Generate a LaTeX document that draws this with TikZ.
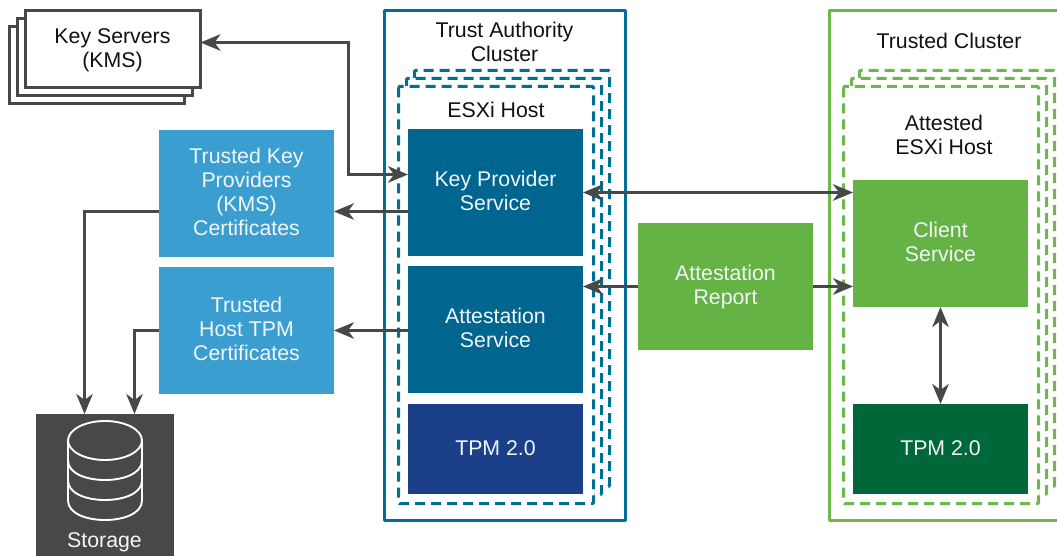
\documentclass[tikz,border=0pt]{standalone}
\usepackage{fontspec}
\setmainfont{Liberation Sans}
\usetikzlibrary{arrows.meta,calc}
\definecolor{arrowgrey}{HTML}{474847}
\definecolor{taline}{HTML}{006E96}
\definecolor{tcline}{HTML}{6CB84B}
\definecolor{svcblue}{HTML}{006690}
\definecolor{tpmblue}{HTML}{1B3F88}
\definecolor{certblue}{HTML}{3B9ED1}
\definecolor{svcgreen}{HTML}{65B345}
\definecolor{tpmgreen}{HTML}{006838}
\definecolor{textblack}{HTML}{111111}
\definecolor{textwhite}{HTML}{F2F6F8}
\tikzset{
  lbl/.style={font=\fontsize{21.3}{24}\selectfont,align=center,inner sep=0pt,outer sep=0pt},
  darklbl/.style={lbl,text=textblack},
  whitelbl/.style={lbl,text=textwhite},
  box/.style={minimum width=175pt,inner sep=0pt,outer sep=0pt,draw=none},
  certbox/.style={box,fill=certblue,minimum height=127pt},
  svcbox/.style={box,fill=svcblue,minimum height=127pt},
  greenbox/.style={box,fill=svcgreen,minimum height=127pt},
  tpmbox/.style={box,minimum height=90pt},
  stackbox/.style={draw=arrowgrey,line width=2.7pt,fill=white,minimum width=175pt,minimum height=77pt,inner sep=0pt,outer sep=0pt},
  frameline/.style={line width=2.7pt,line join=round},
  hostline/.style={line width=3pt,rounded corners=1pt,dash pattern=on 10pt off 6pt},
  conn/.style={draw=arrowgrey,line width=2.7pt,line join=miter},
  tip/.style={-{Stealth[length=20pt,width=16.5pt,inset=6pt]}},
  tips/.style={{Stealth[length=20pt,width=16.5pt,inset=6pt]}-{Stealth[length=20pt,width=16.5pt,inset=6pt]}},
  cyl/.style={white,line width=1.9pt},
}
\begin{document}
\begin{tikzpicture}[x=1pt,y=-1pt]
\useasboundingbox (0,0) rectangle (1057,556);
% Trust Authority cluster
\draw[taline,frameline] (384.5,10.5) rectangle (625.5,520.5);
\draw[taline,hostline] (414.5,78) -- (414.5,70.5) -- (609.5,70.5) -- (609.5,486.5) -- (602,486.5);
\draw[taline,hostline] (406.5,86) -- (406.5,78.5) -- (601.5,78.5) -- (601.5,494.5) -- (594,494.5);
\draw[taline,hostline] (398.5,86.5) rectangle (593.5,503.5);
\node[darklbl] (talabel) at (504.5,42) {Trust Authority\\Cluster};
\node[darklbl] (esxilabel) at (496,110) {ESXi Host};
% Trusted cluster
\draw[tcline,frameline] (1058,10.5) -- (829.5,10.5) -- (829.5,520.5) -- (1058,520.5);
\draw[tcline,hostline] (859.5,78) -- (859.5,70.5) -- (1054.5,70.5) -- (1054.5,486.5) -- (1047,486.5);
\draw[tcline,hostline] (851.5,86) -- (851.5,78.5) -- (1046.5,78.5) -- (1046.5,494.5) -- (1039,494.5);
\draw[tcline,hostline] (843.5,86.5) rectangle (1038.5,503.5);
\node[darklbl] (tclabel) at (949,41) {Trusted Cluster};
\node[darklbl] (attlabel) at (944,135) {Attested\\ESXi Host};
% Key servers stack
\node[stackbox] (ks3) at (97,65) {};
\node[stackbox] (ks2) at (105,57) {};
\node[stackbox] (ks) at (113,49) {};
\node[darklbl] (kslabel) at (112.5,50) {Key Servers\\(KMS)};
% Services
\node[svcbox] (kp) at (495.5,192.5) {};
\node[whitelbl] (kplabel) at (495.5,190.5) {Key Provider\\Service};
\node[svcbox] (as) at (495.5,329.5) {};
\node[whitelbl] (aslabel) at (495.5,327.5) {Attestation\\Service};
\node[tpmbox,fill=tpmblue] (tpma) at (495.5,449) {};
\node[whitelbl] (tpmalabel) at (495.5,448) {TPM 2.0};
\node[greenbox] (cs) at (940.5,243.5) {};
\node[whitelbl] (cslabel) at (940.5,241.5) {Client\\Service};
\node[tpmbox,fill=tpmgreen] (tpmc) at (940.5,449) {};
\node[whitelbl] (tpmclabel) at (940.5,448) {TPM 2.0};
\node[greenbox] (ar) at (725.5,286.5) {};
\node[whitelbl] (arlabel) at (725.5,286.5) {Attestation\\Report};
\node[certbox] (kc) at (246.5,193.5) {};
\node[whitelbl] (kclabel) at (246.5,191.5) {Trusted Key\\Providers\\(KMS)\\Certificates};
\node[certbox] (hc) at (246.5,330.5) {};
\node[whitelbl] (hclabel) at (246.5,328.5) {Trusted\\Host TPM\\Certificates};
% Storage
\node[fill=arrowgrey,minimum width=138pt,minimum height=142pt,inner sep=0pt,outer sep=0pt] (st) at (105,485) {};
\node[whitelbl] (stlabel) at (104.5,542) {Storage};
\draw[cyl] (105,440.5) ellipse [x radius=37,y radius=19.5];
\draw[cyl] (68,440.5) -- (68,500.5) .. controls (68,526.5) and (142,526.5) .. (142,500.5) -- (142,440.5);
\draw[cyl] (68,460.5) .. controls (68,486.5) and (142,486.5) .. (142,460.5);
\draw[cyl] (68,480.5) .. controls (68,506.5) and (142,506.5) .. (142,480.5);
% Connectors
\coordinate (ksport) at ([yshift=6.5pt]ks.east);
\coordinate (kpportw) at ([yshift=18pt]kp.west);
\coordinate (bendks) at (348.5,0);
\draw[conn,tips] (ksport) -- (bendks |- ksport) -- (bendks |- kpportw) -- (kpportw);
\draw[conn,tip] ([yshift=-19pt]kp.west) -- ([yshift=-19pt]kp.west -| kc.east);
\draw[conn,tip] ([yshift=-1pt]as.west) -- ([yshift=-1pt]as.west -| hc.east);
\coordinate (stin1) at ([xshift=-20.5pt]st.north);
\coordinate (stin2) at ([xshift=29.5pt]st.north);
\coordinate (kcout) at ([yshift=-18pt]kc.west);
\draw[conn,tip] (kcout) -- (stin1 |- kcout) -- (stin1);
\draw[conn,tip] (hc.west) -- (stin2 |- hc.west) -- (stin2);
\draw[conn,tips] (kp.east) -- (kp.east -| cs.west);
\draw[conn,tip] (ar.west) -- (ar.west -| as.east);
\draw[conn,tip] (ar.east) -- (ar.east -| cs.west);
\draw[conn,tips] (cs.south) -- (tpmc.north);
\end{tikzpicture}
\end{document}
